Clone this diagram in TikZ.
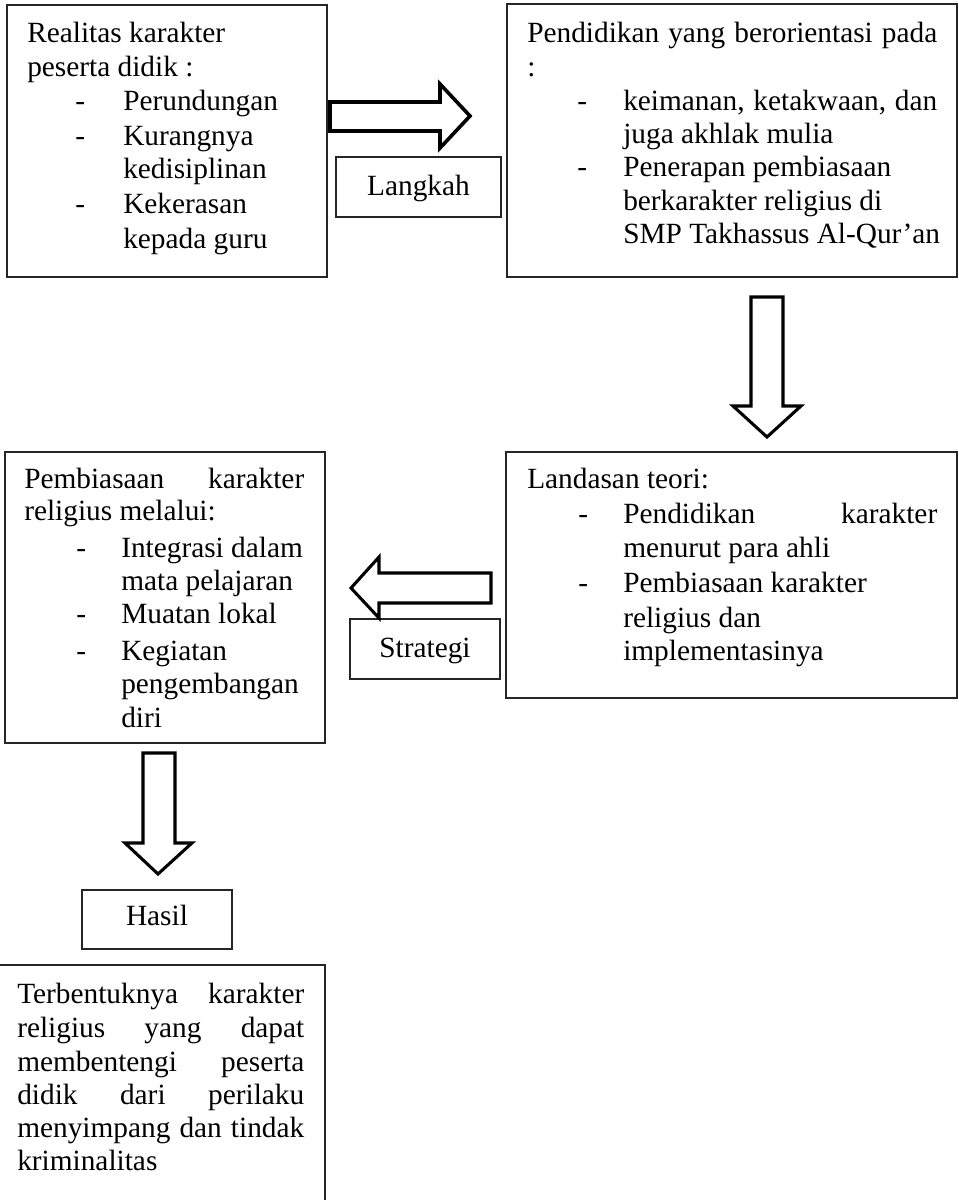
\documentclass[tikz,border=0pt]{standalone}
\usepackage{fontspec}
\setmainfont{Liberation Serif}
\begin{document}
\begin{tikzpicture}[x=0.75pt,y=-0.75pt,
  box/.style={draw=black!85,line width=0.8pt,rectangle,inner sep=0pt,fill=none},
  txt/.style={anchor=base west,inner sep=0pt,font=\fontsize{22}{26}\selectfont},
  lbl/.style={anchor=base,inner sep=0pt,font=\fontsize{22}{26}\selectfont},
  blockarrow/.style={draw=black,line width=2.3pt,line join=miter,fill=white}]
\useasboundingbox (0,0) rectangle (959,1200);
\clip (0,0) rectangle (959,1200);
\fill[white] (0,0) rectangle (959,1200);
% boxes
\node[box,minimum width=240pt,minimum height=204pt] (b1) at (167,141) {};
\node[box,minimum width=337.5pt,minimum height=204.75pt] (b2) at (732,140.5) {};
\node[box,minimum width=123.75pt,minimum height=45pt] (langkah) at (418.5,187) {};
\node[box,minimum width=338.25pt,minimum height=184.5pt] (b3) at (731.5,575) {};
\node[box,minimum width=240pt,minimum height=218.25pt] (b4) at (165,597.5) {};
\node[box,minimum width=112.5pt,minimum height=45pt] (strategi) at (425,649) {};
\node[box,minimum width=112.5pt,minimum height=44.25pt] (hasil) at (157,919.5) {};
\node[box,minimum width=266.25pt,minimum height=187.5pt] (b5) at (147.5,1090) {};
% block arrows
\draw[blockarrow,line width=2.7pt] (330,102) -- (440,102) -- (440,84) -- (470,116) -- (440,148) -- (440,131) -- (330,131) -- cycle;
\draw[blockarrow] (491,573) -- (379,573) -- (379,557) -- (351,588) -- (379,618) -- (379,603) -- (491,603) -- cycle;
\draw[blockarrow] (751,297) -- (783,297) -- (783,406) -- (801,406) -- (767,437) -- (733,406) -- (751,406) -- cycle;
\draw[blockarrow] (143,753) -- (175,753) -- (175,843) -- (192,843) -- (158,874) -- (125,843) -- (143,843) -- cycle;
% labels
\node[lbl] (tl) at (418.5,195) {Langkah};
\node[lbl] (ts) at (425,657) {Strategi};
\node[lbl] (th) at (157,925) {Hasil};
% box 1 text
\node[txt] (t11) at (27,42) {Realitas karakter};
\node[txt] (t12) at (27,76) {peserta didik :};
\node[txt] (d11) at (75,110) {-};
\node[txt] (t13) at (123,110) {Perundungan};
\node[txt] (d12) at (75,145) {-};
\node[txt] (t14) at (123,145) {Kurangnya};
\node[txt] (t15) at (123,178) {kedisiplinan};
\node[txt] (d13) at (75,213) {-};
\node[txt] (t16) at (123,213) {Kekerasan};
\node[txt] (t17) at (123,248) {kepada guru};
% box 2 text
\node[txt] (t21) at (527,42) {\makebox[307.5pt][s]{Pendidikan yang berorientasi pada}};
\node[txt] (t22) at (527,76) {:};
\node[txt] (d21) at (577,110) {-};
\node[txt] (t23) at (623,110) {\makebox[235.5pt][s]{keimanan, ketakwaan, dan}};
\node[txt] (t24) at (623,143) {juga akhlak mulia};
\node[txt] (d22) at (577,176) {-};
\node[txt] (t25) at (623,176) {Penerapan pembiasaan};
\node[txt] (t26) at (623,210) {berkarakter religius di};
\node[txt] (t27) at (623,243) {SMP Takhassus Al-Qur’an};
% box 3 text
\node[txt] (t31) at (527,488) {Landasan teori:};
\node[txt] (d31) at (578,523) {-};
\node[txt] (t32) at (623,523) {\makebox[235.5pt][s]{Pendidikan karakter}};
\node[txt] (t33) at (623,557) {menurut para ahli};
\node[txt] (d32) at (578,592) {-};
\node[txt] (t34) at (623,592) {Pembiasaan karakter};
\node[txt] (t35) at (623,627) {religius dan};
\node[txt] (t36) at (623,660) {implementasinya};
% box 4 text
\node[txt] (t41) at (24,488) {\makebox[210pt][s]{Pembiasaan karakter}};
\node[txt] (t42) at (24,520) {religius melalui:};
\node[txt] (d41) at (76,557) {-};
\node[txt] (t43) at (121,557) {Integrasi dalam};
\node[txt] (t44) at (121,590) {mata pelajaran};
\node[txt] (d42) at (76,623) {-};
\node[txt] (t45) at (121,623) {Muatan lokal};
\node[txt] (d43) at (76,660) {-};
\node[txt] (t46) at (121,660) {Kegiatan};
\node[txt] (t47) at (121,693) {pengembangan};
\node[txt] (t48) at (121,727) {diri};
% box 5 text
\node[txt] (t51) at (17,1003) {\makebox[215.25pt][s]{Terbentuknya karakter}};
\node[txt] (t52) at (17,1037) {\makebox[215.25pt][s]{religius yang dapat}};
\node[txt] (t53) at (17,1071) {\makebox[215.25pt][s]{membentengi peserta}};
\node[txt] (t54) at (17,1104) {\makebox[215.25pt][s]{didik dari perilaku}};
\node[txt] (t55) at (17,1137) {\makebox[215.25pt][s]{menyimpang dan tindak}};
\node[txt] (t56) at (17,1170) {kriminalitas};
\end{tikzpicture}
\end{document}
